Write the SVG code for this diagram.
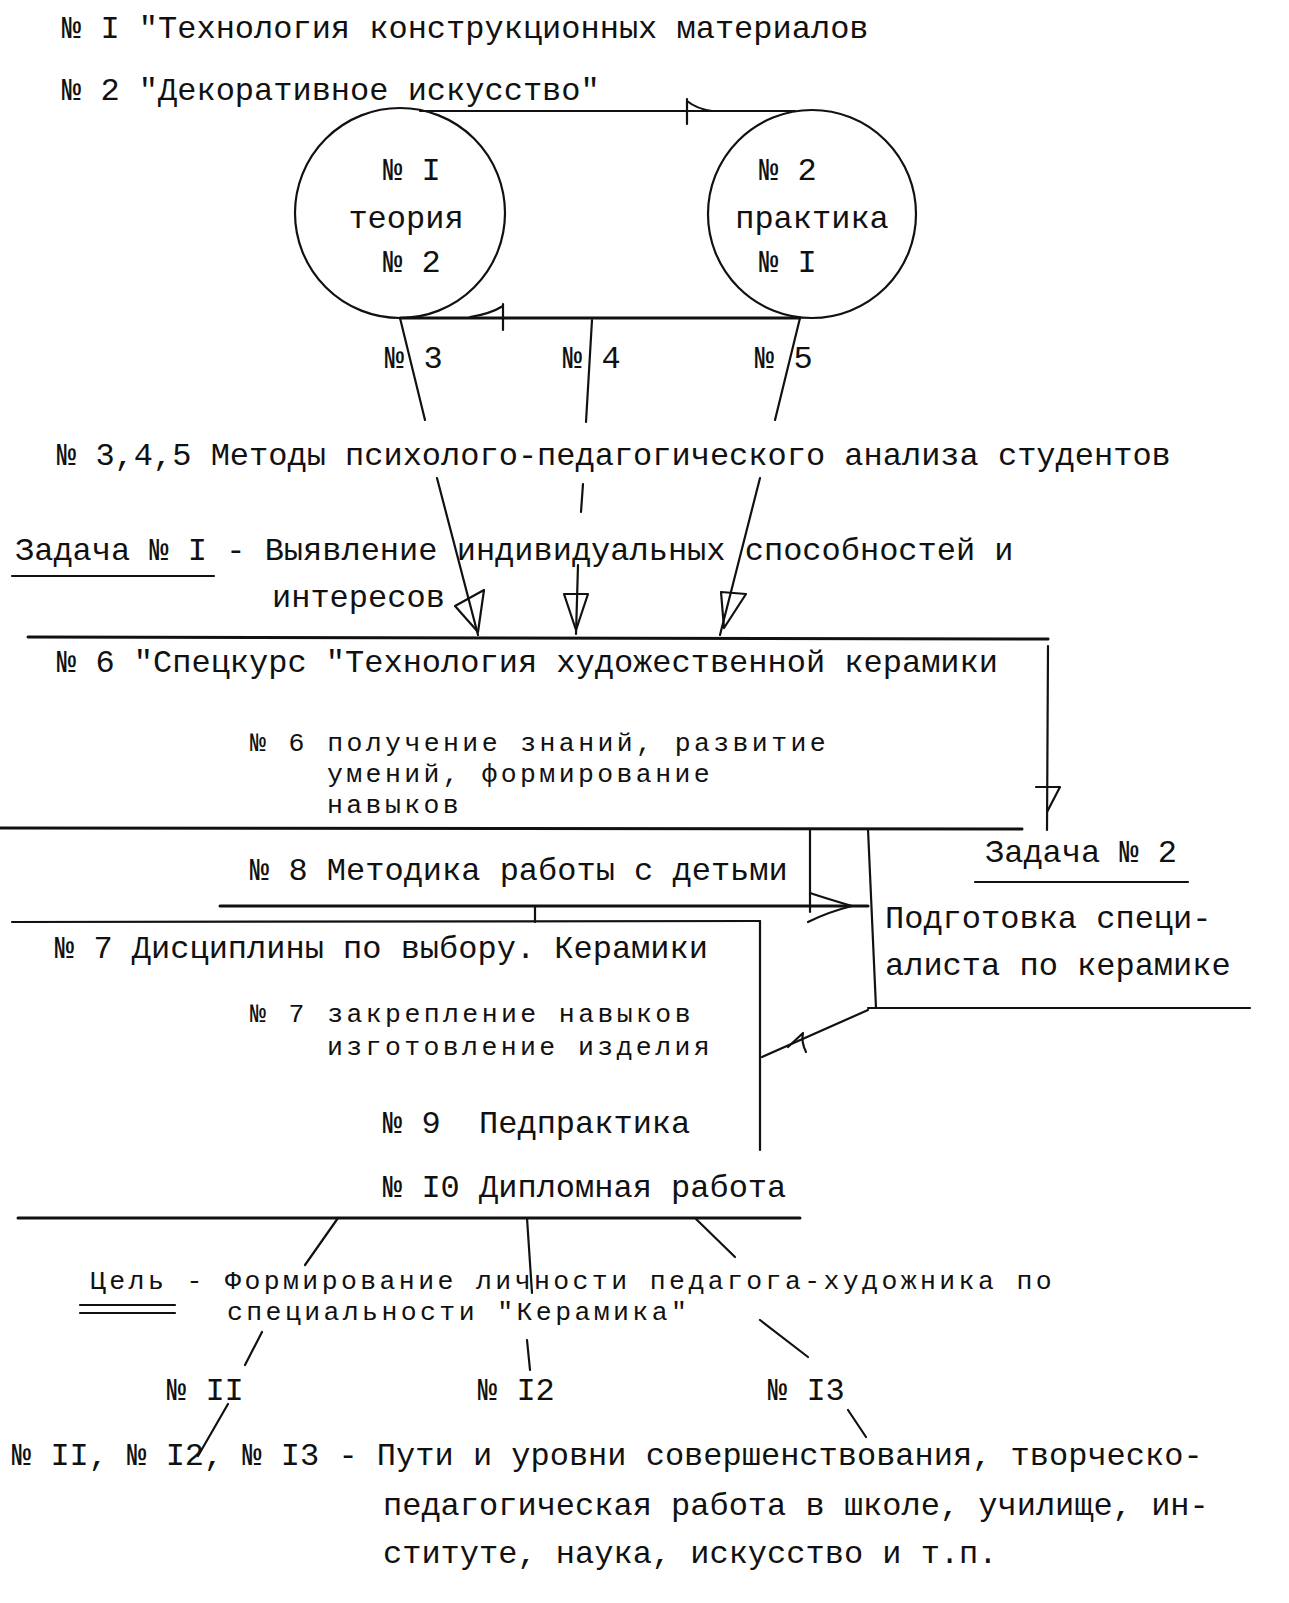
<svg xmlns="http://www.w3.org/2000/svg" width="1289" height="1603" viewBox="0 0 1289 1603">
<style>
text{font-family:"Liberation Mono","DejaVu Sans Mono",monospace;font-size:32px;fill:#111;white-space:pre}
text.t{font-size:26.5px;letter-spacing:3.4px}
.ln{stroke:#111;stroke-width:2.2;fill:none;stroke-linecap:round;stroke-linejoin:round}
.thick{stroke-width:3}
.c{text-anchor:middle}
</style>
<rect width="1289" height="1603" fill="#fff"/>

<g id="header">
<text x="62" y="38">№ I "Технология конструкционных материалов</text>
<text x="62" y="100">№ 2 "Декоративное искусство"</text>
</g>

<g id="theory">
<circle class="ln" cx="400" cy="213" r="105"/>
<text class="c" x="412" y="180">№ I</text>
<text class="c" x="406" y="228">теория</text>
<text class="c" x="412" y="272">№ 2</text>
</g>

<g id="practice">
<circle class="ln" cx="812" cy="214" r="104"/>
<text class="c" x="788" y="180">№ 2</text>
<text class="c" x="812" y="228">практика</text>
<text class="c" x="788" y="272">№ I</text>
</g>

<g id="methods">
<text x="57" y="465">№ 3,4,5 Методы психолого-педагогического анализа студентов</text>
</g>

<g id="task1">
<text x="15" y="560">Задача № I - Выявление индивидуальных способностей и</text>
<text x="272" y="607">интересов</text>
<line class="ln" x1="12" y1="576" x2="214" y2="576"/>
</g>

<g id="course6">
<text x="57" y="672">№ 6 "Спецкурс "Технология художественной керамики</text>
<text class="t" x="250" y="751">№ 6 получение знаний, развитие</text>
<text class="t" x="327" y="782">умений, формирование</text>
<text class="t" x="327" y="813">навыков</text>
</g>

<g id="method8">
<text x="250" y="880">№ 8 Методика работы с детьми</text>
</g>

<g id="task2">
<text x="985" y="862">Задача № 2</text>
<line class="ln" x1="975" y1="882" x2="1188" y2="882"/>
<text x="885" y="928">Подготовка специ-</text>
<text x="885" y="975">алиста по керамике</text>
</g>

<g id="disc7">
<text x="55" y="958">№ 7 Дисциплины по выбору. Керамики</text>
<text class="t" x="250" y="1022">№ 7 закрепление навыков</text>
<text class="t" x="327" y="1055">изготовление изделия</text>
</g>

<g id="practice9">
<text x="383" y="1133">№ 9  Педпрактика</text>
</g>

<g id="diploma10">
<text x="383" y="1197">№ I0 Дипломная работа</text>
</g>

<g id="goal">
<text class="t" x="90" y="1289">Цель - Формирование личности педагога-художника по</text>
<text class="t" x="227" y="1320">специальности "Керамика"</text>
<line class="ln" x1="80" y1="1305" x2="175" y2="1305"/>
<line class="ln" x1="80" y1="1313" x2="175" y2="1313"/>
</g>

<g id="n11"><text x="167" y="1400">№ II</text></g>
<g id="n12"><text x="478" y="1400">№ I2</text></g>
<g id="n13"><text x="768" y="1400">№ I3</text></g>

<g id="ways">
<text x="12" y="1465">№ II, № I2, № I3 - Пути и уровни совершенствования, творческо-</text>
<text x="383" y="1515">педагогическая работа в школе, училище, ин-</text>
<text x="383" y="1563">ституте, наука, искусство и т.п.</text>
</g>

<g id="connectors">
<!-- theory <-> practice -->
<line class="ln" x1="420" y1="111" x2="795" y2="111"/>
<path class="ln" d="M687,99 L687,124 M687,101 Q697,109 712,111"/>
<line class="ln thick" x1="400" y1="318" x2="800" y2="318"/>
<path class="ln" d="M503,304 L503,330 M503,306 Q490,314 470,317"/>
<!-- 3,4,5 -->
<line class="ln" x1="400" y1="318" x2="425" y2="420"/>
<line class="ln" x1="592" y1="320" x2="586" y2="422"/>
<line class="ln" x1="800" y1="318" x2="775" y2="420"/>
<text x="385" y="368">№ 3</text>
<text x="563" y="368">№ 4</text>
<text x="755" y="368">№ 5</text>
<!-- methods -> course -->
<line class="ln" x1="437" y1="478" x2="478" y2="635"/>
<path class="ln" d="M455,606 L484,590 L478,632 Z"/>
<line class="ln" x1="583" y1="484" x2="581" y2="512"/>
<line class="ln" x1="578" y1="565" x2="576" y2="634"/>
<path class="ln" d="M564,594 L588,594 L576,630 Z"/>
<line class="ln" x1="760" y1="478" x2="720" y2="635"/>
<path class="ln" d="M721,592 L746,594 L724,628 Z"/>
<!-- course box lines -->
<line class="ln thick" x1="28" y1="637" x2="1048" y2="639"/>
<line class="ln" x1="1048" y1="646" x2="1047" y2="830"/>
<path class="ln" d="M1036,787 L1060,787 L1047,812"/>
<line class="ln thick" x1="0" y1="828" x2="1022" y2="829"/>
<!-- method8 box -->
<line class="ln" x1="810" y1="829" x2="810" y2="912"/>
<line class="ln" x1="868" y1="829" x2="876" y2="1008"/>
<line class="ln thick" x1="220" y1="906" x2="868" y2="906"/>
<path class="ln" d="M810,893 Q828,899 852,906 Q828,912 808,922"/>
<line class="ln" x1="535" y1="906" x2="535" y2="922"/>
<line class="ln" x1="12" y1="922" x2="760" y2="921"/>
<line class="ln" x1="760" y1="921" x2="760" y2="1150"/>
<!-- task2 -> disc7 -->
<line class="ln" x1="868" y1="1008" x2="1250" y2="1008"/>
<line class="ln" x1="868" y1="1010" x2="762" y2="1057"/>
<path class="ln" d="M788,1047 L803,1033 Q801,1042 806,1052"/>
<!-- diploma line -->
<line class="ln thick" x1="18" y1="1218" x2="800" y2="1218"/>
<line class="ln" x1="338" y1="1218" x2="305" y2="1265"/>
<line class="ln" x1="527" y1="1218" x2="532" y2="1293"/>
<line class="ln" x1="696" y1="1219" x2="735" y2="1257"/>
<!-- goal -> 11,12,13 -->
<line class="ln" x1="262" y1="1332" x2="245" y2="1365"/>
<line class="ln" x1="527" y1="1340" x2="530" y2="1370"/>
<line class="ln" x1="760" y1="1320" x2="808" y2="1357"/>
<line class="ln" x1="228" y1="1404" x2="198" y2="1456"/>
<line class="ln" x1="848" y1="1410" x2="866" y2="1437"/>
</g>
</svg>
